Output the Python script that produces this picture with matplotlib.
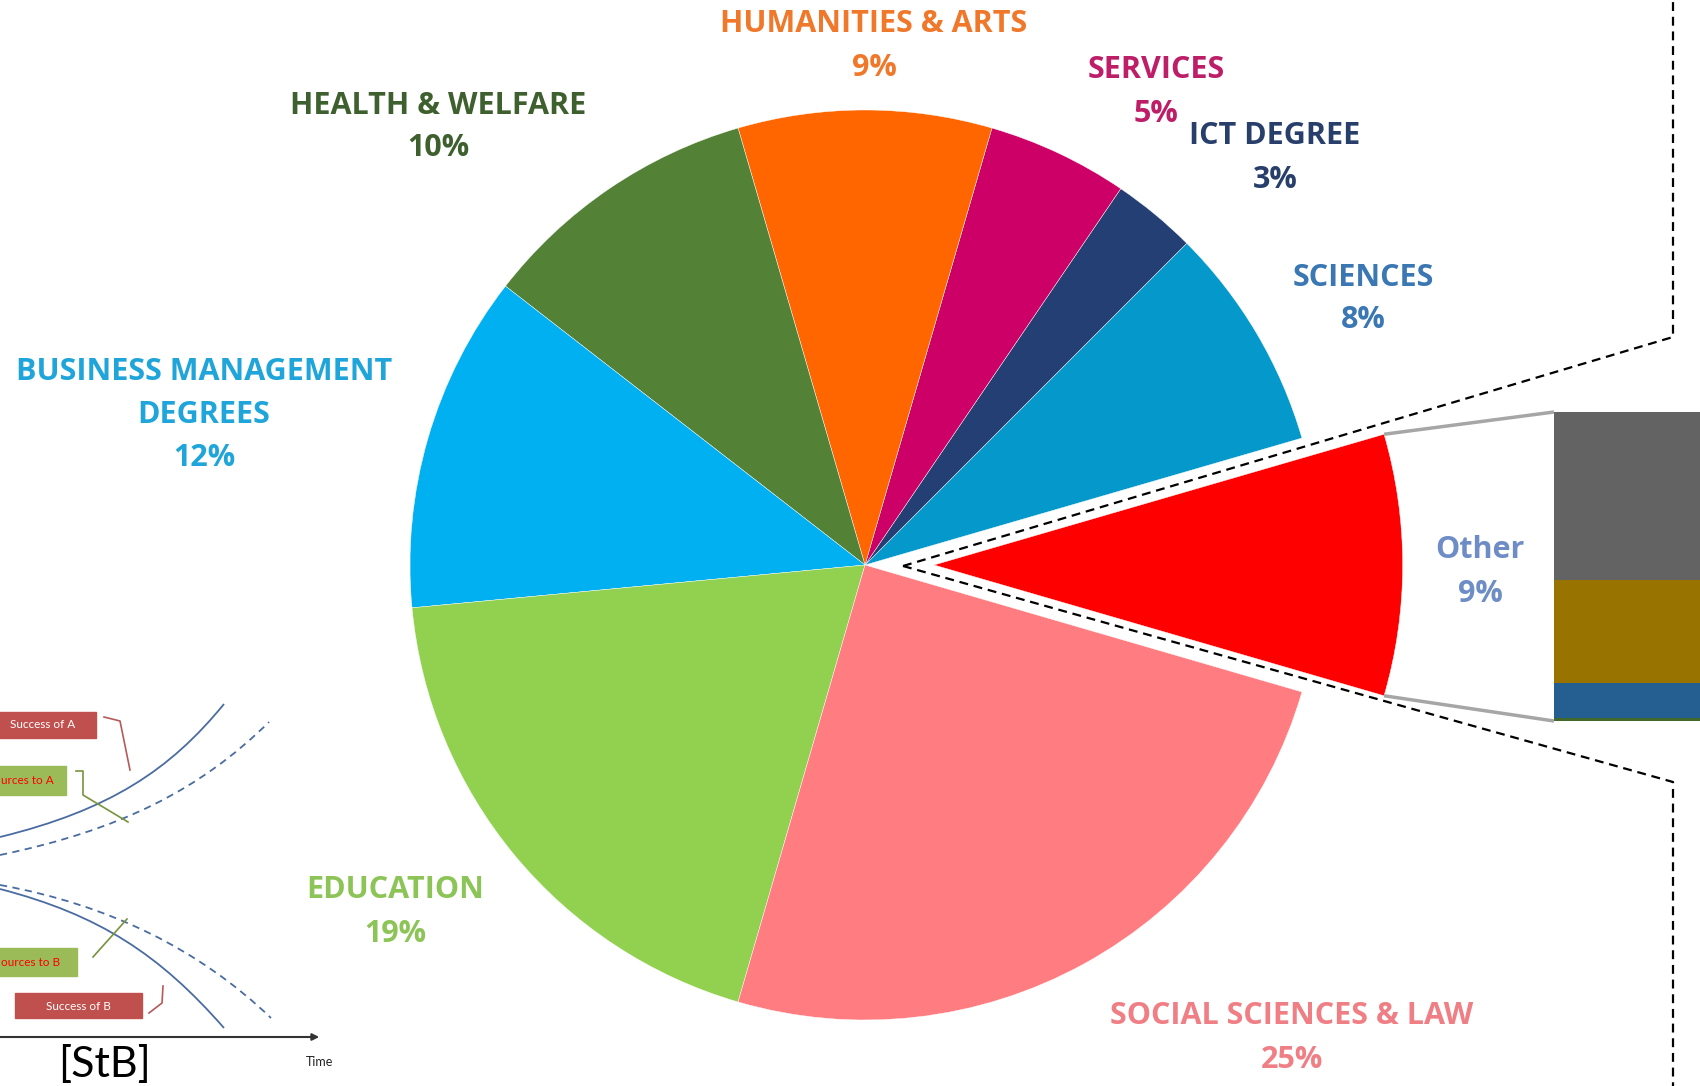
import numpy as np
import matplotlib.pyplot as plt
from matplotlib.path import Path
from matplotlib.patches import PathPatch, Rectangle

W, H = 1700, 1086

# pie data, counter-clockwise starting with the exploded "Other" slice
fields = ["Other", "SCIENCES", "ICT DEGREE", "SERVICES", "HUMANITIES & ARTS",
          "HEALTH & WELFARE", "BUSINESS MANAGEMENT\nDEGREES", "EDUCATION",
          "SOCIAL SCIENCES & LAW"]
shares = [9, 8, 3, 5, 9, 10, 12, 19, 25]
slice_colors = ["#FF0000", "#0599CB", "#243F73", "#CC0066", "#FF6600",
                "#538135", "#00B0F0", "#92D050", "#FF7C80"]
text_colors = ["#6E8CC6", "#3A77B3", "#283F6B", "#BE1E68", "#F0782A",
               "#3E5F2E", "#1FA5DA", "#8DC457", "#F07F85"]

# breakdown of "Other" in the stacked bar (bottom -> top)
other_parts = [0.1, 1.0, 3.0, 4.9]
other_colors = ["#43682B", "#255E91", "#997300", "#636363"]

# label block centres (image pixels)
label_pos = [(1480, 572), (1363, 299), (1275, 158), (1156, 92), (874, 46),
             (438, 127), (204, 415), (395, 912), (1292, 1038)]

cx, cy, R = 865, 565, 455
explode_px = 69
other_r = 1.03
start = -shares[0] / 100 * 360 / 2

fig = plt.figure(figsize=(17, 10.86), dpi=100)

# ---- pie
half = 700
axp = fig.add_axes([(cx - half) / W, (H - cy - half) / H, 2 * half / W, 2 * half / H])
explode = [explode_px / R] + [0] * (len(shares) - 1)
wedges, _ = axp.pie(shares, colors=slice_colors, startangle=start, counterclock=True,
                    explode=explode, radius=1,
                    wedgeprops=dict(edgecolor="white", linewidth=0.3))
wedges[0].set_radius(other_r)
axp.set_xlim(-half / R, half / R)
axp.set_ylim(-half / R, half / R)
axp.axis("off")

# ---- stacked bar for the breakdown of "Other"
bar_left, bar_top, bar_bot = 1554, 412, 721
axb = fig.add_axes([bar_left / W, (H - bar_bot) / H, 200 / W, (bar_bot - bar_top) / H])
bottom = 0
for v, c in zip(other_parts, other_colors):
    axb.bar(0, v, bottom=bottom, width=1, color=c, edgecolor="none")
    bottom += v
axb.set_xlim(-0.5, 0.5)
axb.set_ylim(0, sum(other_parts))
axb.axis("off")

# ---- overlay in image pixel coordinates
ax = fig.add_axes([0, 0, 1, 1])
ax.set_xlim(0, W)
ax.set_ylim(H, 0)
ax.axis("off")
ax.patch.set_alpha(0)

# connector lines from the exploded slice to the bar
a1 = np.radians(start)
a2 = np.radians(-start)
ox = cx + explode_px
for ang, by in [(a2, bar_top), (a1, bar_bot)]:
    px = ox + R * other_r * np.cos(ang)
    py = cy - R * other_r * np.sin(ang)
    ax.plot([px, bar_left], [py, by], color="#A6A6A6", lw=2.5, solid_capstyle="butt")

# dashed zoom outline
dash = dict(color="black", lw=1.6, dashes=(4, 2.6))
ax.plot([903, 1673, 1673], [566, 337, -10], **dash)
ax.plot([903, 1673, 1673], [566, 782, H + 10], **dash)

# labels
for name, pct, (lx, ly), tc in zip(fields, shares, label_pos, text_colors):
    lines = name.split("\n") + [f"{pct}%"]
    n = len(lines)
    for i, line in enumerate(lines):
        ax.text(lx, ly + (i - (n - 1) / 2) * 43, line, color=tc, fontsize=22,
                fontweight="bold", family="Open Sans", ha="center", va="center")

# ---- fragment of the neighbouring diagram (bottom left)
blue = "#4A6CA0"


def curve(pts, **kw):
    p = Path(pts, [Path.MOVETO, Path.CURVE4, Path.CURVE4, Path.CURVE4])
    ax.add_patch(PathPatch(p, facecolor="none", edgecolor=blue, lw=1.3, **kw))


curve([(0, 837), (110, 810), (170, 770), (224, 704)])
curve([(0, 855), (120, 830), (200, 790), (269, 722)], linestyle=(0, (4, 3)))
curve([(0, 885), (110, 905), (200, 950), (271, 1018)], linestyle=(0, (4, 3)))
curve([(0, 889), (100, 915), (160, 955), (224, 1028)])

red_box, green_box = "#C0504D", "#9BBB59"
small = dict(fontsize=8.5, family="Lato", va="center")
ax.add_patch(Rectangle((-5, 712), 101, 26, color=red_box))
ax.text(43, 725, "Success of A", color="white", ha="center", **small)
ax.add_patch(Rectangle((-5, 766), 71, 29, color=green_box))
ax.text(1, 780, "urces to A", color="#FF0000", ha="left", **small)
ax.add_patch(Rectangle((-5, 948), 82, 28, color=green_box))
ax.text(1, 962, "ources to B", color="#FF0000", ha="left", **small)
ax.add_patch(Rectangle((15, 993), 127, 25, color=red_box))
ax.text(78, 1006, "Success of B", color="white", ha="center", **small)

ax.plot([104, 120, 130], [717, 721, 770], color="#B55A57", lw=1.2)
ax.plot([76, 83, 83, 128], [771, 771, 795, 822], color="#77933C", lw=1.2)
ax.plot([93, 127], [957, 919], color="#77933C", lw=1.2)
ax.plot([149, 162, 163], [1013, 1003, 986], color="#B55A57", lw=1.2)

ax.annotate("", xy=(322, 1037), xytext=(-5, 1037),
            arrowprops=dict(arrowstyle="-|>", color="#333333", lw=1.5,
                            mutation_scale=10))
ax.text(320, 1062, "Time", fontsize=9, family="Lato", color="#222222",
        ha="center", va="center")
ax.text(105, 1077, "[StB]", fontsize=31, family="Lato", color="black",
        ha="center", va="baseline")

fig.savefig("out.png", dpi=100)
